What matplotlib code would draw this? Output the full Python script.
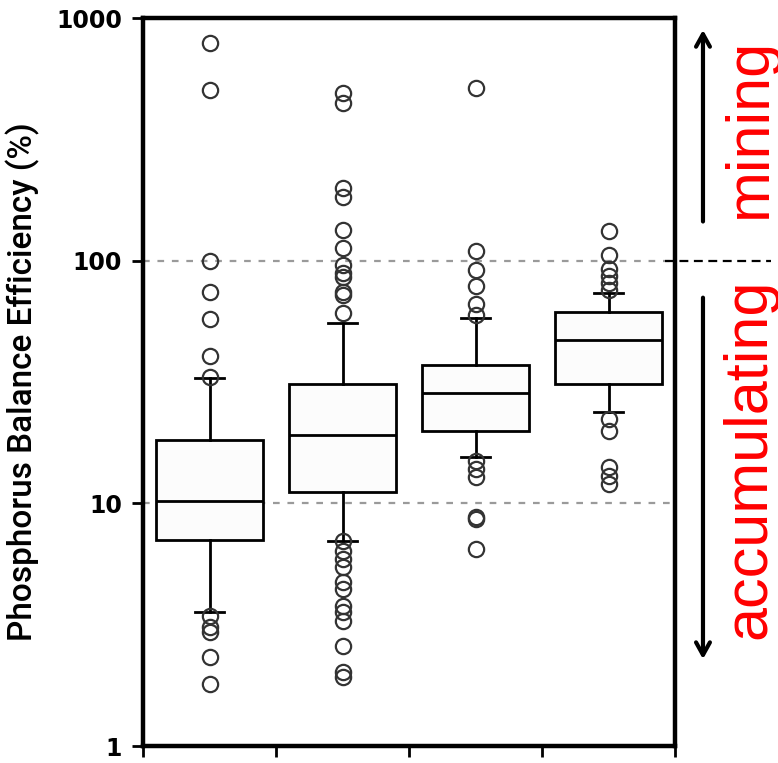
import numpy as np
import matplotlib.pyplot as plt
import matplotlib.transforms as mtransforms

# box statistics (values in %)
positions = [0.5, 1.5, 2.5, 3.5]
medians = [10.2, 19.2, 28.6, 47.3]
q1s = [7.04, 11.1, 19.8, 30.9]
q3s = [18.3, 30.9, 37.3, 61.7]
whis_lo = [3.56, 6.98, 15.5, 23.9]
whis_hi = [33.0, 55.6, 58.3, 73.8]
fliers = [
    [791, 505, 100, 74.5, 57.6, 40.3, 33.3, 3.43, 3.09, 2.94, 2.32, 1.80],
    [491, 447, 200, 183, 134, 113, 96, 89, 86, 74.5, 72.4, 61,
     7.0, 6.35, 5.89, 5.45, 4.73, 4.43, 3.77, 3.56, 3.27, 2.58, 2.02, 1.92],
    [515, 110, 91.8, 78.9, 66.5, 59.7, 14.9, 13.8, 12.8, 8.75, 8.6, 6.47],
    [132, 106, 92.7, 86.7, 81.1, 76, 22.2, 19.8, 14.1, 12.9, 12.0],
]
ref_lines = [100, 10]
y_ticks = [1, 10, 100, 1000]

stats = []
for i in range(len(positions)):
    stats.append(dict(med=medians[i], q1=q1s[i], q3=q3s[i],
                      whislo=whis_lo[i], whishi=whis_hi[i], fliers=fliers[i]))

fig = plt.figure(figsize=(7.78, 7.63), dpi=100)
ax = fig.add_axes([143/778, 17/763, (675-143)/778, (746-18)/763])

for v in ref_lines:
    ax.axhline(v, color='#9a9a9a', lw=1.6, ls=(0, (3, 3.5)), zorder=0)

lw = 2.0
ax.bxp(stats, positions=positions, widths=0.81, capwidths=0.22,
       patch_artist=True, showfliers=True,
       boxprops=dict(facecolor='#fcfcfc', edgecolor='black', linewidth=lw),
       medianprops=dict(color='black', linewidth=lw),
       whiskerprops=dict(color='black', linewidth=lw),
       capprops=dict(color='black', linewidth=lw),
       flierprops=dict(marker='o', markersize=11, markerfacecolor='none',
                       markeredgecolor='#333333', markeredgewidth=1.6))

ax.set_yscale('log')
ax.set_ylim(1, 1000)
ax.set_xlim(0, 4)
ax.set_yticks(y_ticks)
ax.set_yticklabels([str(t) for t in y_ticks], fontweight='bold', fontsize=17)
ax.yaxis.set_minor_locator(plt.NullLocator())
ax.set_xticks([0, 1, 2, 3, 4])
ax.set_xticklabels([])
ax.tick_params(axis='both', direction='out', length=8, width=2, pad=7)
for s in ax.spines.values():
    s.set_linewidth(3.2)

ax.set_ylabel('Phosphorus Balance Efficiency (%)', fontsize=24,
              family='Roboto', fontweight='medium', labelpad=12)

# annotations to the right of the axes
tr = mtransforms.blended_transform_factory(ax.transAxes, ax.transData)
ax.plot([0.981, 1.18], [100, 100], transform=tr, color='black', lw=1.6,
        ls=(0, (4, 2.5)), clip_on=False)
ax.annotate('', xy=(1.0526, 893), xytext=(1.0526, 145), xycoords=tr,
            textcoords=tr, annotation_clip=False,
            arrowprops=dict(arrowstyle='->,head_length=0.9,head_width=0.5',
                            lw=3, color='black', shrinkA=0, shrinkB=0))
ax.annotate('', xy=(1.0526, 2.28), xytext=(1.0526, 70.4), xycoords=tr,
            textcoords=tr, annotation_clip=False,
            arrowprops=dict(arrowstyle='->,head_length=0.9,head_width=0.5',
                            lw=3, color='black', shrinkA=0, shrinkB=0))
ax.text(1.17, 352, 'mining', transform=tr, rotation=90, rotation_mode='anchor',
        ha='center', va='baseline', color='red', fontsize=44,
        family='Liberation Sans', clip_on=False)
ax.text(1.17, 15.2, 'accumulating', transform=tr, rotation=90,
        rotation_mode='anchor', ha='center', va='baseline', color='red',
        fontsize=44, family='Liberation Sans', clip_on=False)

fig.savefig('out.png', dpi=100)
